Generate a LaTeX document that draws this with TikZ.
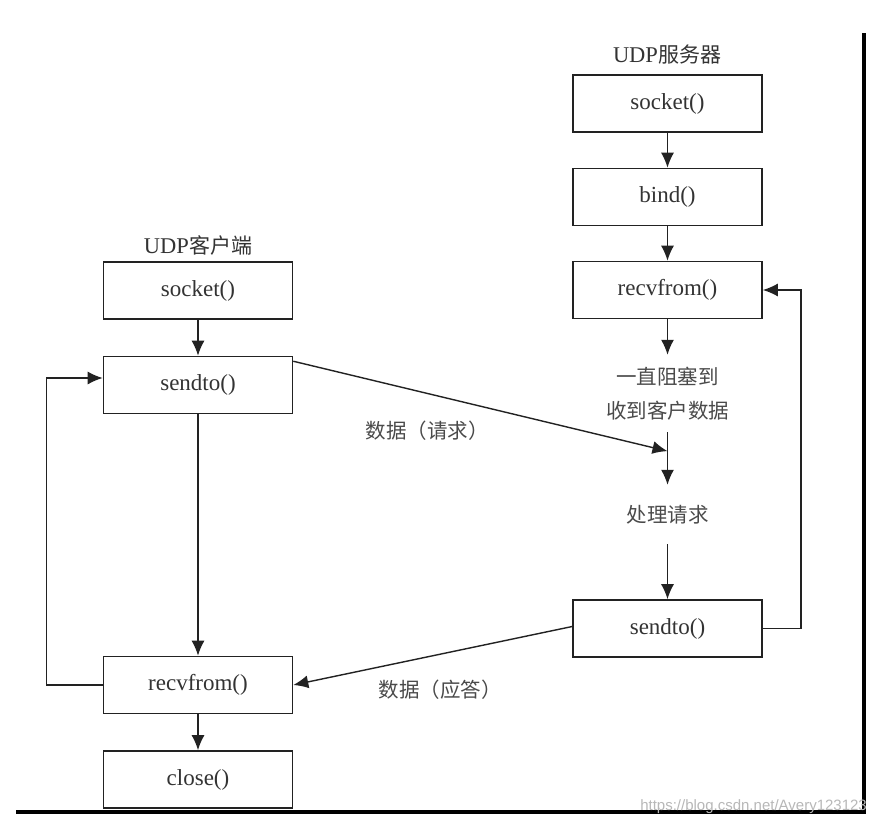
\documentclass[tikz,border=0pt]{standalone}
\usepackage{fontspec}
\setmainfont{Liberation Serif}
\newfontfamily\cjk{Noto Sans CJK SC}
\newfontfamily\wmfont{Liberation Sans}
\usetikzlibrary{arrows.meta,calc}
\definecolor{ink}{HTML}{222222}
\definecolor{txt}{HTML}{333333}
\definecolor{cjktxt}{HTML}{4A4A4A}
\begin{document}
\begin{tikzpicture}[x=1pt,y=-1pt,
  fbox/.style={draw=ink,line width=1.6pt,minimum width=189pt,minimum height=57pt,inner sep=0pt,
    font=\fontsize{23}{26}\selectfont,text=txt},
  cjklabel/.style={font=\cjk\fontsize{20.5}{34}\selectfont,text=cjktxt,align=center,inner sep=0pt},
  title/.style={font=\fontsize{22.5}{26}\selectfont,text=txt,inner sep=0pt},
  arr/.style={draw=ink,line width=1.4pt,-{Latex[length=15pt,width=13pt]}},
  ln/.style={draw=ink,line width=1.4pt}]
\useasboundingbox (0,0) rectangle (876,830);
\fill[white] (0,0) rectangle (876,830);
% frame lines
\coordinate (frTop) at (863.5,33);
\coordinate (frCorner) at (863.5,812);
\coordinate (frLeft) at (16,812);
\draw[black,line width=4pt] (frTop) -- (frCorner) -- (frLeft);

% titles
\node[title] (tserv) at (667,55) {UDP{\cjk\fontsize{21}{26}\selectfont 服务器}};
\node[title] (tcli) at (198,245) {UDP{\cjk\fontsize{21}{26}\selectfont 客户端}};

% server
\node[fbox] (ssock) at (667.5,103.5) {socket()};
\node[fbox] (sbind) at (667.5,197) {bind()};
\node[fbox] (srecv) at (667.5,290) {recvfrom()};
\node[cjklabel,minimum height=77pt] (block) at (667.5,393.5) {一直阻塞到\\收到客户数据};
\node[cjklabel,minimum height=59pt] (proc) at (667.5,514.5) {处理请求};
\node[fbox] (ssend) at (667.5,628.5) {sendto()};

% client
\node[fbox] (csock) at (198,290.5) {socket()};
\node[fbox] (csend) at (198,385) {sendto()};
\node[fbox] (crecv) at (198,685) {recvfrom()};
\node[fbox] (cclose) at (198,779.5) {close()};

% server flow
\draw[arr] (ssock) -- (sbind);
\draw[arr] (sbind) -- (srecv);
\draw[arr] (srecv) -- (block.north);
\draw[arr] (block.south) -- (proc.north);
\coordinate (hit) at ($(block.south)!0.36!(proc.north)$);
\draw[arr] (proc.south) -- (ssend.north);
\draw[arr] (ssend.east) -- ++(38,0) |- (srecv.east);

% client flow
\draw[arr] (csock) -- (csend);
\draw[arr] (csend) -- (crecv);
\draw[arr] (crecv) -- (cclose);
\draw[arr] (crecv.west) -- ++(-56,0) |- ([yshift=7pt]csend.west);

% messages
\draw[arr] (csend.14) -- (hit);
\draw[arr] ([yshift=2pt]ssend.west) -- (crecv.east);
\node[cjklabel] (lreq) at (427,431) {数据（请求）};
\node[cjklabel] (lresp) at (440,690) {数据（应答）};

% watermark
\node[font=\wmfont\fontsize{15}{17}\selectfont,text=black!28,anchor=east,inner sep=0pt] (wm) at (867,807) {https://blog.csdn.net/Avery123123};
\end{tikzpicture}
\end{document}
